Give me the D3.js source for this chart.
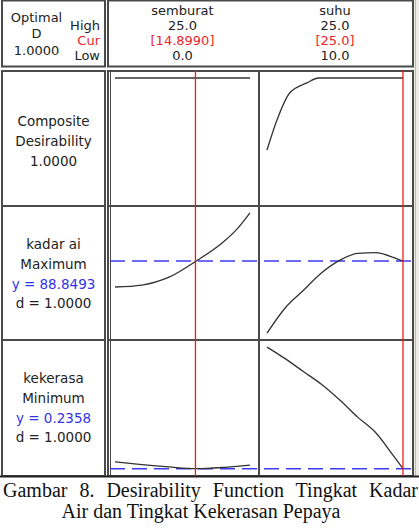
<!DOCTYPE html>
<html>
<head>
<meta charset="utf-8">
<script src="https://cdn.jsdelivr.net/npm/d3@7"></script>
<style>
  body { margin: 0; background: #fff; }
  svg { display: block; }
  .lbl { font-family: "DejaVu Sans", sans-serif; font-size: 13.5px; fill: #222; }
  .hd { font-size: 13px; }
</style>
</head>
<body>
<div id="chart"></div>
<script>
// factors and their settings
const factors = ['semburat', 'suhu'];
const highs = ['25.0', '25.0'];
const curs = ['[14.8990]', '[25.0]'];
const lows = ['0.0', '10.0'];
const curValues = [14.899, 25];

// grid of x values
const semburatX = [0, 5, 10, 15, 20, 22.5, 25];
const suhuX = [10, 12, 14, 16, 18, 20, 22, 24, 25];
const compSuhuX = [10, 11.1, 12.5, 14.4, 15.7, 25];

// composite desirability
const compSemburat = [1, 1, 1, 1, 1, 1, 1];
const compSuhu = [0.39, 0.644, 0.873, 0.958, 1, 1];

// kadar air
const kadarSemburat = [87.0, 87.14, 87.7, 88.85, 90.2, 91.1, 92.3];
const kadarSuhu = [83.7, 85.5, 86.75, 88.0, 88.9, 89.4, 89.45, 89.1, 88.85];
const kadarTarget = 88.8493;

// kekerasan
const kerasSemburat = [0.31, 0.28, 0.255, 0.236, 0.25, 0.262, 0.275];
const kerasSuhu = [1.567, 1.44, 1.30, 1.16, 0.99, 0.80, 0.63, 0.37, 0.236];
const kerasTarget = 0.2358;

const rowLabels = [
  [['Composite', '#222'], ['Desirability', '#222'], ['1.0000', '#222']],
  [['kadar ai', '#222'], ['Maximum', '#222'], ['y = 88.8493', '#3333e6'], ['d = 1.0000', '#222']],
  [['kekerasa', '#222'], ['Minimum', '#222'], ['y = 0.2358', '#3333e6'], ['d = 1.0000', '#222']]
];

const W = 419, H = 529;
const FRAME = '#4a4a4a';

const svg = d3.select('#chart').append('svg')
  .attr('width', W)
  .attr('height', H);

// scales for each column
const xSemb = d3.scaleLinear().domain([0, 25]).range([115, 250]);
const xSuhu = d3.scaleLinear().domain([10, 25]).range([267, 403]);
const xScales = [xSemb, xSuhu];

// scales for each row
const yComp = d3.scaleLinear().domain([0, 1]).range([196, 78]);
const yKadar = d3.scaleLinear().domain([83.5, 92.5]).range([336, 210]);
const yKeras = d3.scaleLinear().domain([0.2, 1.6]).range([472, 344]);

// grey strip on the right edge
svg.append('rect')
  .attr('x', 413).attr('y', 0).attr('width', 6).attr('height', 477)
  .attr('fill', '#ebebe3');
svg.append('line')
  .attr('x1', 415.5).attr('x2', 415.5).attr('y1', 0).attr('y2', 477)
  .attr('stroke', '#bbb');

// header boxes
svg.append('rect')
  .attr('x', 2).attr('y', 0.5).attr('width', 103).attr('height', 66)
  .attr('fill', 'none').attr('stroke', FRAME).attr('stroke-width', 2);
svg.append('rect')
  .attr('x', 108).attr('y', 0.5).attr('width', 305).attr('height', 66)
  .attr('fill', 'none').attr('stroke', FRAME).attr('stroke-width', 2);

// label column box
svg.append('rect')
  .attr('x', 2).attr('y', 71).attr('width', 103).attr('height', 405)
  .attr('fill', 'none').attr('stroke', FRAME).attr('stroke-width', 2);
// plot area box
svg.append('rect')
  .attr('x', 108).attr('y', 71).attr('width', 305).attr('height', 405)
  .attr('fill', 'none').attr('stroke', FRAME).attr('stroke-width', 2);
svg.append('line')
  .attr('x1', 110.5).attr('x2', 110.5).attr('y1', 72).attr('y2', 475)
  .attr('stroke', FRAME).attr('stroke-width', 1);

// row dividers
[206, 340].forEach(y => {
  svg.append('line').attr('x1', 2).attr('x2', 105).attr('y1', y).attr('y2', y)
    .attr('stroke', FRAME).attr('stroke-width', 2);
  svg.append('line').attr('x1', 108).attr('x2', 413).attr('y1', y).attr('y2', y)
    .attr('stroke', FRAME).attr('stroke-width', 2);
});
// column divider
svg.append('line').attr('x1', 259).attr('x2', 259).attr('y1', 71).attr('y2', 476)
  .attr('stroke', FRAME).attr('stroke-width', 2);
// bottom rule
svg.append('line').attr('x1', 0).attr('x2', 419).attr('y1', 476.5).attr('y2', 476.5)
  .attr('stroke', '#222').attr('stroke-width', 2);

// header left texts
const txt = svg.append('g').attr('class', 'lbl');
const hdr = txt.append('g').attr('class', 'hd');
[['Optimal', 17], ['D', 33], ['1.0000', 50]].forEach(([t, y]) => {
  hdr.append('text').attr('x', 36.5).attr('y', y).attr('dy', '0.36em')
    .attr('text-anchor', 'middle').text(t);
});
[['High', 26, '#222'], ['Cur', 41, '#e8262d'], ['Low', 56, '#222']].forEach(([t, y, c]) => {
  hdr.append('text').attr('x', 100).attr('y', y).attr('dy', '0.34em')
    .attr('text-anchor', 'end').attr('fill', c).text(t);
});

// factor headers
factors.forEach((f, i) => {
  const cx = (xScales[i].range()[0] + xScales[i].range()[1]) / 2;
  const lines = [[f, 11, '#222'], [highs[i], 26, '#222'], [curs[i], 41, '#e8262d'], [lows[i], 55.5, '#222']];
  lines.forEach(([t, y, c]) => {
    hdr.append('text').attr('x', cx).attr('y', y).attr('dy', '0.34em')
      .attr('text-anchor', 'middle').attr('fill', c).text(t);
  });
});

// row labels
const rowCenters = [141, 274, 408];
rowLabels.forEach((lines, r) => {
  const step = 19.7;
  const start = rowCenters[r] - step * (lines.length - 1) / 2;
  lines.forEach(([t, c], k) => {
    txt.append('text').attr('x', 53.5).attr('y', start + k * step).attr('dy', '0.36em')
      .attr('text-anchor', 'middle').attr('fill', c).text(t);
  });
});

// target lines (dashed blue)
[[yKadar, kadarTarget], [yKeras, kerasTarget]].forEach(([y, v]) => {
  svg.append('line')
    .attr('x1', 110).attr('x2', 413)
    .attr('y1', y(v)).attr('y2', y(v))
    .attr('stroke', '#3b3bf0').attr('stroke-width', 1.5)
    .attr('stroke-dasharray', '15,7');
});

// curves
const curves = [
  [semburatX, compSemburat, xSemb, yComp],
  [compSuhuX, compSuhu, xSuhu, yComp],
  [semburatX, kadarSemburat, xSemb, yKadar],
  [suhuX, kadarSuhu, xSuhu, yKadar],
  [semburatX, kerasSemburat, xSemb, yKeras],
  [suhuX, kerasSuhu, xSuhu, yKeras]
];
curves.forEach(([xs, ys, x, y]) => {
  const line = d3.line()
    .x(d => x(d[0]))
    .y(d => y(d[1]))
    .curve(d3.curveMonotoneX);
  svg.append('path')
    .datum(xs.map((v, k) => [v, ys[k]]))
    .attr('d', line)
    .attr('fill', 'none')
    .attr('stroke', '#333')
    .attr('stroke-width', 1.3);
});

// current setting lines (red)
curValues.forEach((v, i) => {
  const x = xScales[i](v);
  svg.append('line')
    .attr('x1', x).attr('x2', x).attr('y1', 70).attr('y2', 476)
    .attr('stroke', '#ee1c1c').attr('stroke-width', 1.3);
});

// caption
const cap = svg.append('g')
  .style('font-family', '"Liberation Serif", "Times New Roman", serif')
  .style('font-size', '20px')
  .attr('fill', '#111');
cap.append('text').attr('x', 3).attr('y', 497)
  .style('word-spacing', '7px')
  .text('Gambar 8. Desirability Function Tingkat Kadar');
cap.append('text').attr('x', 201).attr('y', 518)
  .attr('text-anchor', 'middle')
  .text('Air dan Tingkat Kekerasan Pepaya');
</script>
</body>
</html>
